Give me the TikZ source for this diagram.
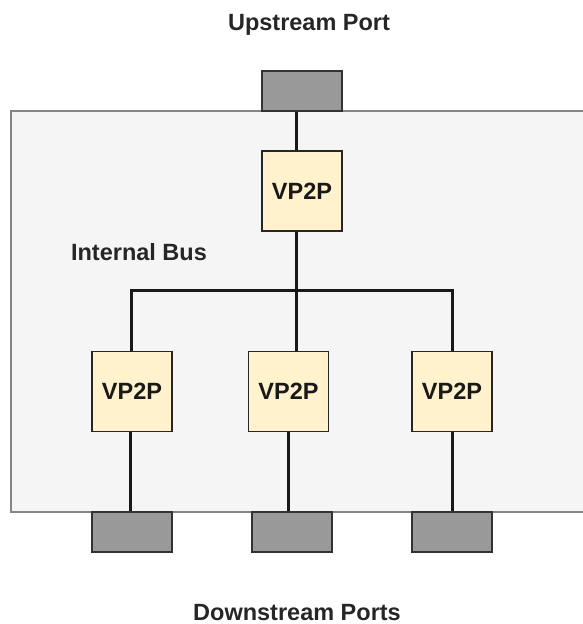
\documentclass[tikz,border=0pt]{standalone}
\usepackage{fontspec}
\setmainfont{Liberation Sans}
\begin{document}
\begin{tikzpicture}[x=1pt,y=-1pt,
  label text/.style={font=\bfseries\fontsize{23.5}{28}\selectfont, text=black!85, inner sep=0pt},
  vbox/.style={draw=black!85, line width=1.6pt, fill=vpfill, minimum width=80pt, minimum height=80pt, inner sep=0pt,
    font=\bfseries\fontsize{23.5}{28}\selectfont, text=black!90},
  portbox/.style={draw=black!80, line width=1.6pt, fill=portfill, minimum width=80pt, minimum height=40pt, inner sep=0pt},
  wire/.style={line width=3pt, black!90}
]
\definecolor{vpfill}{HTML}{FFF2CC}
\definecolor{portfill}{HTML}{999999}
\definecolor{switchfill}{HTML}{F5F5F5}
\definecolor{switchline}{HTML}{858585}

\useasboundingbox (0,0) rectangle (583,624);

% switch body (runs off the right edge)
\fill[switchfill] (11,111) rectangle (583,512);
\draw[switchline, line width=2pt] (583,111) -- (11,111) -- (11,512) -- (583,512);

% bus junction points
\coordinate (bj0) at (296,290);
\coordinate (bj1) at (131,290);
\coordinate (bj3) at (452,290);

% upstream side
\node[portbox] (up) at (302,91) {};
\node[vbox] (v0) at (302,191) {VP2P};

% downstream bridges and ports
\node[vbox] (v1) at (132,391.5) {VP2P};
\node[vbox] (v2) at (288.5,391.5) {VP2P};
\node[vbox] (v3) at (452,391.5) {VP2P};
\node[portbox] (d1) at (132,532) {};
\node[portbox] (d2) at (292,532) {};
\node[portbox] (d3) at (452,532) {};

% internal bus
\draw[wire] (up.south -| bj0) -- (v0.north -| bj0);
\draw[wire] (v0.south -| bj0) -- (bj0);
\draw[wire, line cap=rect] (bj1) -- (bj3);
\draw[wire] (bj1) -- (v1.north -| bj1);
\draw[wire] (bj0) -- (v2.north -| bj0);
\draw[wire] (bj3) -- (v3.north -| bj3);

% links to downstream ports
\coordinate (dl1) at (130,0);
\coordinate (dl2) at (288,0);
\coordinate (dl3) at (452,0);
\draw[wire] (v1.south -| dl1) -- (d1.north -| dl1);
\draw[wire] (v2.south -| dl2) -- (d2.north -| dl2);
\draw[wire] (v3.south -| dl3) -- (d3.north -| dl3);

% labels
\node[label text, anchor=base] (tup) at (309,30) {Upstream Port};
\node[label text, anchor=base] (tbus) at (139,260) {Internal Bus};
\node[label text, anchor=base] (tdown) at (297,620) {Downstream Ports};
\end{tikzpicture}
\end{document}
